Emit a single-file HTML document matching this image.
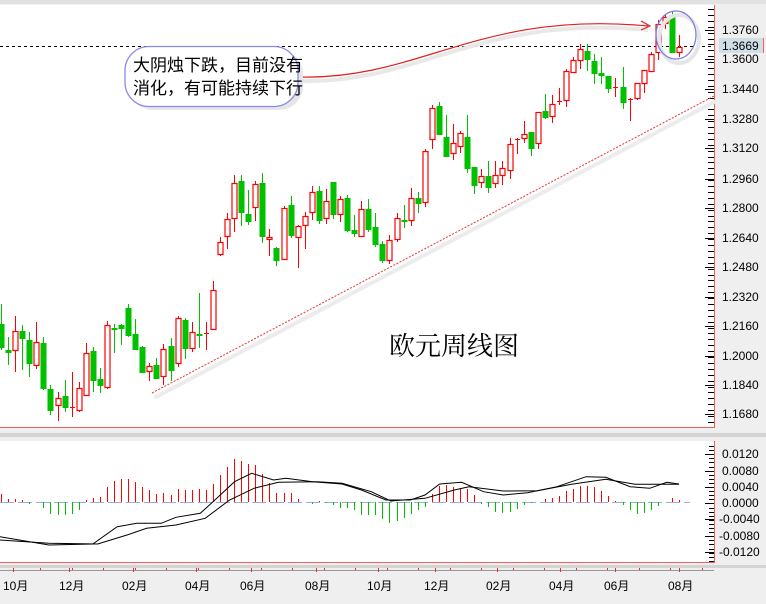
<!DOCTYPE html>
<html><head><meta charset="utf-8"><style>
html,body{margin:0;padding:0;background:#efefef;}
svg{display:block;}
text{font-family:"Liberation Sans","Noto Sans CJK SC",sans-serif;}
</style></head><body>
<svg id="s" width="766" height="604" viewBox="0 0 766 604" xmlns="http://www.w3.org/2000/svg">
<rect x="0" y="0" width="766" height="604" fill="#efefef"/>
<rect x="0" y="0" width="766" height="4" fill="#e2e2e2"/>
<rect x="0" y="5" width="714" height="422" fill="#fff"/>
<line x1="714.5" y1="5" x2="714.5" y2="428" stroke="#f06060"/>
<line x1="0" y1="427.5" x2="715" y2="427.5" stroke="#f06060"/>
<rect x="0" y="433" width="766" height="4" fill="#d4d4d4"/>
<rect x="0" y="441" width="714" height="121" fill="#fff"/>
<line x1="714.5" y1="441" x2="714.5" y2="563" stroke="#f06060"/>
<line x1="0" y1="562.5" x2="715" y2="562.5" stroke="#f06060"/>
<rect x="0" y="565" width="766" height="3" fill="#d4d4d4"/>
<line x1="0" y1="570.5" x2="714" y2="570.5" stroke="#999"/>
<g id="ticks"></g>
<line x1="0" y1="46.5" x2="714" y2="46.5" stroke="#000" stroke-dasharray="3,3"/>
<line x1="156" y1="397" x2="714" y2="102" stroke="#ececec" stroke-width="4" stroke-linecap="round"/>
<line x1="152" y1="393" x2="714" y2="96" stroke="#f03030" stroke-dasharray="2,1.5"/>
<g id="candles"></g>
<path d="M300,81 C420,84 480,14 648,30" fill="none" stroke="#e8e8e8" stroke-width="4"/>
<path d="M300,77 C420,80 480,10 648,26" fill="none" stroke="#e02020" stroke-width="1.2"/>
<path d="M641,21 L650,26 L641,30" fill="none" stroke="#e02020" stroke-width="1.2"/>
<ellipse cx="679" cy="39" rx="20" ry="24" fill="none" stroke="#e6e6e6" stroke-width="4"/>
<ellipse cx="676" cy="35" rx="20" ry="24" fill="none" stroke="#7878e8" stroke-width="1.2"/>
<rect x="129" y="50" width="174" height="60" rx="24" fill="#e6e6e6"/>
<rect x="125" y="46.5" width="173" height="60" rx="24" fill="#fff" stroke="#8888ee" stroke-width="1.3"/>
<text x="133" y="71" font-size="17" fill="#000">大阴烛下跌，目前没有</text>
<text x="133" y="94" font-size="17" fill="#000">消化，有可能持续下行</text>
<text x="389" y="355" font-size="26" fill="#000" style="font-family:'Noto Serif CJK SC',serif">欧元周线图</text>
<g font-size="12" fill="#000">
<text x="722" y="34">1.3760</text>
<rect x="719" y="38" width="44" height="15" fill="#cfdfe6"/>
<line x1="763.5" y1="38" x2="763.5" y2="53" stroke="#f06060"/>
<text x="722" y="50">1.3669</text>
<text x="722" y="63">1.3600</text>
<text x="722" y="93">1.3440</text>
<text x="722" y="123">1.3280</text>
<text x="722" y="152">1.3120</text>
<text x="722" y="183">1.2960</text>
<text x="722" y="212">1.2800</text>
<text x="722" y="242">1.2640</text>
<text x="722" y="271">1.2480</text>
<text x="722" y="301">1.2320</text>
<text x="722" y="330">1.2160</text>
<text x="722" y="360">1.2000</text>
<text x="722" y="389">1.1840</text>
<text x="722" y="418">1.1680</text>
<text x="722" y="458">0.0120</text>
<text x="722" y="475">0.0080</text>
<text x="722" y="491">0.0040</text>
<text x="722" y="507">0.0000</text>
<text x="719" y="523">-0.0040</text>
<text x="719" y="540">-0.0080</text>
<text x="719" y="556">-0.0120</text>
</g>
<g font-size="12" fill="#000">
<text x="3" y="590">10月</text>
<text x="59" y="590">12月</text>
<text x="122" y="590">02月</text>
<text x="185" y="590">04月</text>
<text x="240" y="590">06月</text>
<text x="305" y="590">08月</text>
<text x="367" y="590">10月</text>
<text x="424" y="590">12月</text>
<text x="486" y="590">02月</text>
<text x="549" y="590">04月</text>
<text x="604" y="590">06月</text>
<text x="668" y="590">08月</text>
</g>
<g id="macd"></g>
</svg>
<script>
var NS="http://www.w3.org/2000/svg";
function el(p,t,a){var e=document.createElementNS(NS,t);for(var k in a)e.setAttribute(k,a[k]);p.appendChild(e);return e;}
var C=[
['G',324,347,304,350],['G',350,352,337,365],['R',331,350,316,372],['G',331,338,325,370],['G',340,363,332,377],['R',342,365,322,369],['G',343,388,337,390],['G',389,410,385,415],['R',398,405,392,421],['G',396,407,380,412],
['R',407,408,372,417],['R',388,410,382,412],['R',353,395,343,396],['G',351,380,347,392],['G',379,385,368,393],['R',325,387,321,389],['G',328,329,324,353],['G',325,328,324,345],['G',308,335,304,337],['G',334,349,319,350],
['G',347,372,346,373],['R',366,371,363,381],['G',365,378,358,379],['R',349,376,344,385],['G',346,370,338,381],['R',318,363,316,367],['G',320,348,318,359],['R',332,348,322,352],['G',334,335,293,348],['R',333,334,322,350],
['R',290,329,281,330],['R',242,254,237,256],['R',219,236,213,249],['R',183,218,175,232],['G',181,212,175,226],['G',214,221,190,225],['R',184,207,181,221],['G',183,236,173,243],['R',237,239,229,256],['G',248,260,247,266],
['R',208,259,206,260],['G',205,235,196,238],['R',226,237,225,268],['R',216,225,212,249],['R',192,212,186,220],['G',191,220,186,224],['R',201,218,189,224],['G',182,214,182,219],['R',199,214,196,222],['G',198,230,195,232],
['G',230,233,215,237],['R',209,236,201,237],['G',209,229,199,232],['G',227,244,213,247],['G',244,260,241,263],['R',240,260,235,264],['R',218,239,213,242],['G',220,221,205,228],['R',198,220,188,226],['G',198,203,192,213],
['R',151,202,149,207],['R',108,139,105,149],['G',106,134,102,135],['G',137,156,115,157],['R',143,153,124,160],['R',133,146,131,153],['G',137,168,115,173],['G',167,185,167,194],['R',176,182,169,188],['G',176,187,161,193],
['R',175,183,161,188],['R',168,175,161,185],['R',144,170,138,179],['R',139,140,138,154],['R',134,138,121,143],['G',132,148,132,156],['R',112,143,112,149],['G',111,117,94,119],['R',104,116,95,123],['R',101,102,88,105],
['R',71,100,69,107],['R',60,72,57,73],['R',49,60,44,69],['G',51,59,44,71],['G',61,73,54,84],['G',73,75,57,84],['G',76,88,76,93],['R',87,87,78,97],['G',87,102,67,109],['R',99,100,98,121],
['R',83,98,83,100],['R',70,83,70,93],['R',54,71,52,72],['R',24,52,20,60],['R',17,23,14,29],['G',15,52,12,53],['R',47,52,35,57]];
var g=document.getElementById('candles');
var sp=(679-1)/(C.length-1);
C.forEach(function(c,i){var x=Math.round(1+i*sp);var col=c[0]=='R'?'#ff0000':'#00c000';
el(g,'line',{x1:x+0.5,y1:c[3],x2:x+0.5,y2:c[4],stroke:col,'stroke-width':1});
var h=Math.max(1,c[2]-c[1]);
if(c[0]=='R'){ if(h<=1){el(g,'line',{x1:x-2,y1:c[1]+0.5,x2:x+3,y2:c[1]+0.5,stroke:col});}
 else el(g,'rect',{x:x-2,y:c[1]+0.5,width:5,height:h,fill:'#fff',stroke:col,'stroke-width':1.2});}
else el(g,'rect',{x:x-2.5,y:c[1],width:6,height:h+1,fill:col});
});
var t=document.getElementById('ticks');
var labs=[30,59,89,119,148,179,208,238,267,297,326,356,385,414];
for(var y=9;y<427;y+=5.9){el(t,'line',{x1:708,y1:Math.round(y)+0.5,x2:714,y2:Math.round(y)+0.5,stroke:'#000'});}
labs.forEach(function(y){el(t,'line',{x1:705,y1:y+0.5,x2:714,y2:y+0.5,stroke:'#000'});});
[454,471,487,503,519,536,552].forEach(function(y){el(t,'line',{x1:705,y1:y+0.5,x2:714,y2:y+0.5,stroke:'#000'});});
for(var y=446;y<562;y+=4.1){el(t,'line',{x1:709,y1:Math.round(y)+0.5,x2:714,y2:Math.round(y)+0.5,stroke:'#000'});}
[13,69,133,196,251,316,378,435,497,560,615,679].forEach(function(x){el(t,'line',{x1:x+0.5,y1:568,x2:x+0.5,y2:572,stroke:'#e03030'});});
for(var x=40;x<714;x+=31.5){el(t,'line',{x1:Math.round(x)+0.5,y1:568,x2:Math.round(x)+0.5,y2:570,stroke:'#e03030'});}
var m=document.getElementById('macd');
el(m,'line',{x1:0,y1:502.5,x2:690,y2:502.5,stroke:'#a0acd8','stroke-dasharray':'14,4'});
var H=[8,3,3,2,-2,0,-6,-12,-13,-13,-12,-8,2,4,5,15,21,23,23,20,15,12,8,9,7,13,12,12,13,12,18,27,35,43,41,38,37,28,19,9,9,9,3,0,
-2,1,-1,-3,-6,-6,-8,-13,-13,-13,-17,-21,-19,-16,-12,-8,-5,8,16,17,15,14,13,7,-2,-5,-10,-11,-10,-7,-3,-1,0,3,4,6,11,13,16,16,15,11,6,1,-3,-8,-12,-11,-8,-4,0,4,2];
H.forEach(function(v,i){if(v==0)return;var x=Math.round(1+i*sp)+0.5;
el(m,'line',{x1:x,y1:502,x2:x,y2:502-v,stroke:v>0?'#ff0000':'#00c000'});});
function pl(pts){var d='';pts.forEach(function(p,i){d+=(i?'L':'M')+(p[0]/2.047).toFixed(1)+','+(p[1]/3+420).toFixed(1);});
el(m,'path',{d:d,fill:'none',stroke:'#000','stroke-width':1});}
pl([[0,350],[100,375],[190,372],[240,320],[280,310],[330,310],[360,292],[410,280],[440,240],[480,185],[515,160],[560,180],[585,175],[640,185],[700,192],[740,210],[790,240],[840,240],[870,225],[900,192],[945,187],[990,215],[1030,225],[1080,218],[1140,200],[1200,170],[1240,172],[1290,200],[1330,205],[1365,187],[1390,192]]);
pl([[0,360],[100,370],[200,372],[260,345],[300,325],[360,315],[420,295],[470,240],[520,205],[570,187],[650,185],[700,190],[760,215],[800,243],[870,235],[930,210],[960,200],[1030,213],[1100,212],[1170,193],[1240,178],[1300,193],[1390,193]]);
</script>
</body></html>
